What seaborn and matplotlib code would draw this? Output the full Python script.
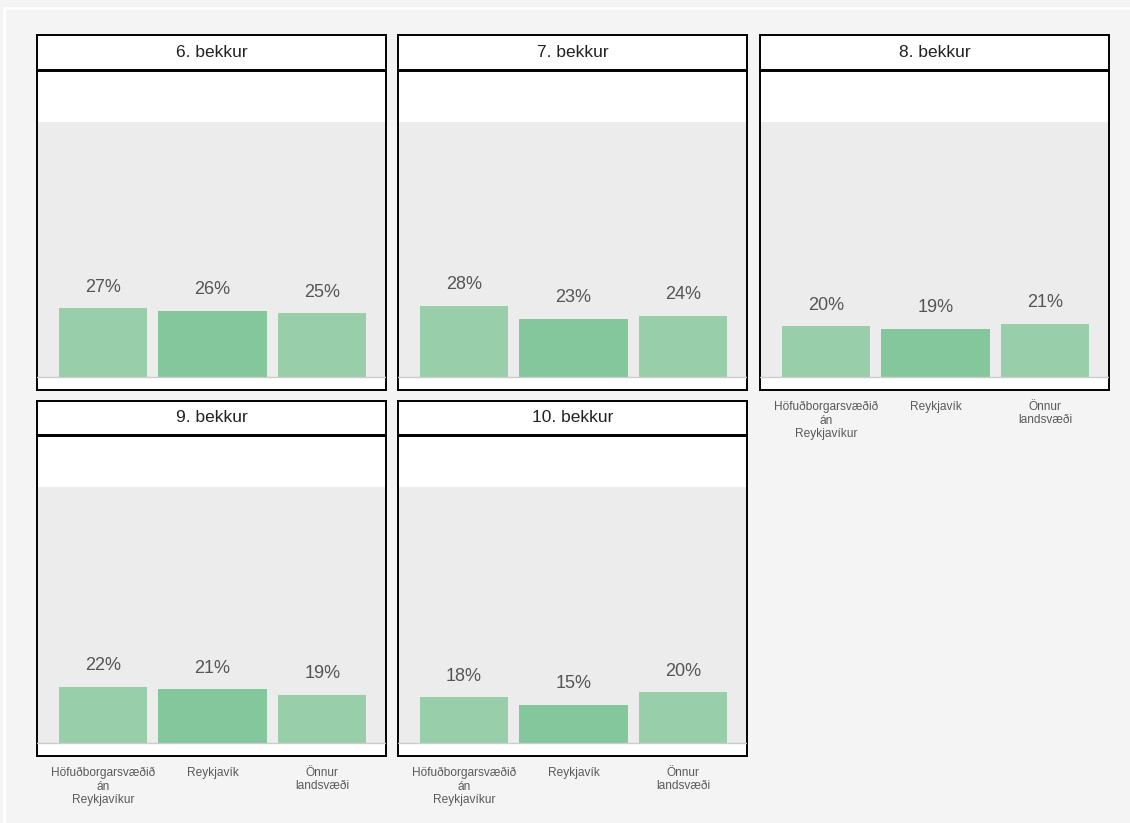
import numpy as np
import pandas as pd
import seaborn as sns
import matplotlib.pyplot as plt
from matplotlib.lines import Line2D

grades = ["6. bekkur", "7. bekkur", "8. bekkur", "9. bekkur", "10. bekkur"]
regions = ["Höfuðborgarsvæðið án Reykjavíkur", "Reykjavík", "Önnur landsvæði"]
tick_labels = ["Höfuðborgarsvæðið\nán\nReykjavíkur", "Reykjavík", "Önnur\nlandsvæði"]
values = {
    "6. bekkur": [27, 26, 25],
    "7. bekkur": [28, 23, 24],
    "8. bekkur": [20, 19, 21],
    "9. bekkur": [22, 21, 19],
    "10. bekkur": [18, 15, 20],
}

colors = ["#98cea9", "#85c79c", "#98cea9"]
bg = "#f4f4f4"
W, H = 1130, 823

sns.set_style("white")
plt.rcParams['font.family'] = ['Liberation Sans', 'DejaVu Sans']

fig = plt.figure(figsize=(W / 100, H / 100), dpi=100, facecolor=bg)

# thin white frame of the container
fig.add_artist(Line2D([3.5 / W, 3.5 / W], [0, 1 - 8 / H], color="white", lw=2))
fig.add_artist(Line2D([3.5 / W, 1], [1 - 8 / H, 1 - 8 / H], color="white", lw=2))


def px_axes(x0, y0, w, h):
    return fig.add_axes([x0 / W, 1 - (y0 + h) / H, w / W, h / H])


col_left = [37, 398, 760]
rows = [(35, 70, 390), (401, 435, 756)]
show_ticks = {"8. bekkur", "9. bekkur", "10. bekkur"}

for i, grade in enumerate(grades):
    r, c = divmod(i, 3)
    top, strip_bot, bot = rows[r]
    x0 = col_left[c]
    w = 349

    # strip header
    sax = px_axes(x0, top, w, strip_bot - top)
    sax.set_facecolor("white")
    sax.set_xticks([])
    sax.set_yticks([])
    for s in sax.spines.values():
        s.set_color("black")
        s.set_linewidth(1.4)
    sax.text(0.5, 0.5, grade, ha="center", va="center", fontsize=12.5,
             color="#222222", transform=sax.transAxes)

    # panel
    ax = px_axes(x0, strip_bot + 1, w, bot - strip_bot - 1)
    ax.set_facecolor("white")
    df = pd.DataFrame({"region": regions, "pct": values[grade]})
    sns.barplot(data=df, x="region", y="pct", hue="region", palette=colors,
                legend=False, ax=ax, width=0.8, saturation=1, zorder=2,
                edgecolor="none", linewidth=0)
    # middle bar is drawn wider
    mid = ax.patches[1]
    mid.set_x(1 - 0.5)
    mid.set_width(1.0)
    ax.axhspan(0, 100, color="#ececec", zorder=0, lw=0)
    ax.axhline(0, color="#cccccc", lw=1, zorder=3)
    for j, v in enumerate(values[grade]):
        ax.annotate(f"{v}%", (j, v), xytext=(0, 9), textcoords="offset points",
                    ha="center", va="bottom", fontsize=13, color="#555555")
    ax.set_xlim(-0.6, 2.58)
    ax.set_ylim(-5, 120)
    ax.set_yticks([])
    ax.set_xlabel("")
    ax.set_ylabel("")
    if grade in show_ticks:
        ax.set_xticks(range(3))
        ax.set_xticklabels(tick_labels, fontsize=8.6, color="#5a5a5a", linespacing=1.15)
        ax.tick_params(axis="x", length=0, pad=8)
    else:
        ax.set_xticks([])
    for s in ax.spines.values():
        s.set_color("black")
        s.set_linewidth(1.4)

fig.savefig("out.png", dpi=100, facecolor=bg)
